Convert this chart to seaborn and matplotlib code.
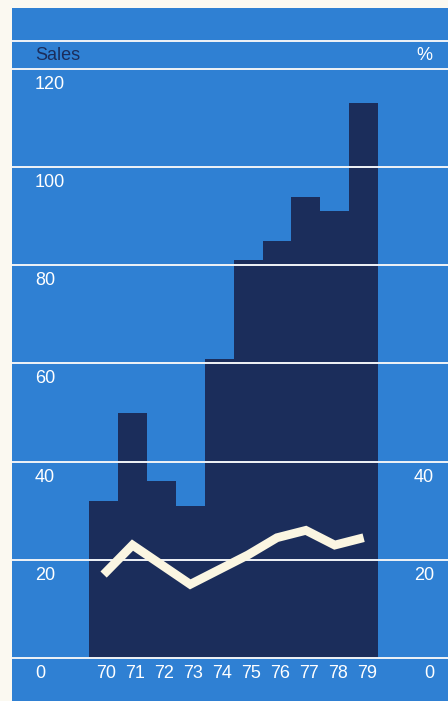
import numpy as np
import matplotlib
matplotlib.use("Agg")
import matplotlib.pyplot as plt
import seaborn as sns

# Data
years = ["70", "71", "72", "73", "74", "75", "76", "77", "78", "79"]
sales = [32, 50, 36, 31, 61, 81, 85, 94, 91, 113]
margin_pct = [17, 23, 19, 15, 18, 21, 24.5, 26, 23, 24.5]
left_ticks = [0, 20, 40, 60, 80, 100, 120]
right_ticks = [0, 20, 40]

# Colours
PAPER = "#fbf9f1"
BLUE = "#2f80d3"
NAVY = "#1b2d5b"
CREAM = "#fbf6e2"
GRID = "#f1f4f8"

sns.set_theme(style="white")
plt.rcParams["font.family"] = ["Liberation Sans", "DejaVu Sans"]

W, H, DPI = 448, 701, 100
fig = plt.figure(figsize=(W / DPI, H / DPI), dpi=DPI, facecolor=PAPER)

# Blue panel: from x=12 px to the right edge, y=8 px down to the bottom edge
ax = fig.add_axes([12 / W, 0, (W - 12) / W, (H - 8) / H])
ax.set_facecolor(BLUE)
for s in ax.spines.values():
    s.set_visible(False)

sns.barplot(x=years, y=sales, color=NAVY, saturation=1, width=1.0,
            linewidth=0, ax=ax, zorder=2)

sns.lineplot(x=years, y=margin_pct, color=CREAM, linewidth=6.3, ax=ax,
             zorder=4, sort=False)
for ln in ax.lines:
    ln.set_solid_joinstyle("miter")
    ln.set_solid_capstyle("butt")

# Scales: 20 units = 98.2 px, zero line at y=658 px
ax.set_xlim(-3.17, 11.92)
ax.set_ylim(-8.76, 132.4)
ax.set_xticks([])
ax.set_yticks([])
ax.set_xlabel("")
ax.set_ylabel("")

# Horizontal rules
for v in left_ticks:
    ax.axhline(v, color=GRID, linewidth=1.4, zorder=3)
header_y = 1 - (41 - 8) / (H - 8)
ax.plot([0, 1], [header_y, header_y], transform=ax.transAxes,
        color=GRID, linewidth=1.4, zorder=3)

fs = 13
left_x = (35 - 12) / (W - 12)
right_x = (434 - 12) / (W - 12)

# Left scale labels, sitting just under each rule
for v in left_ticks:
    ax.annotate(str(v), xy=(left_x, v), xycoords=("axes fraction", "data"),
                xytext=(0, -7), textcoords="offset pixels",
                ha="left", va="top", color="white", fontsize=fs, zorder=5)

# Right scale labels for the percentage line
for v in right_ticks:
    ax.annotate(str(v), xy=(right_x, v), xycoords=("axes fraction", "data"),
                xytext=(0, -7), textcoords="offset pixels",
                ha="right", va="top", color="white", fontsize=fs, zorder=5)

# Year labels under the bars
for i, yr in enumerate(years):
    ax.annotate(yr, xy=(i, 0), xycoords="data",
                xytext=(3, -7), textcoords="offset pixels",
                ha="center", va="top", color="white", fontsize=fs, zorder=5)

# Header titles
title_y = 1 - (55 - 8) / (H - 8)
ax.text(left_x, title_y, "Sales", transform=ax.transAxes, ha="left",
        va="center", color=NAVY, fontsize=fs)
ax.text((432 - 12) / (W - 12), title_y, "%", transform=ax.transAxes,
        ha="right", va="center", color="white", fontsize=fs)

fig.savefig("out.png", dpi=DPI, facecolor=PAPER)
